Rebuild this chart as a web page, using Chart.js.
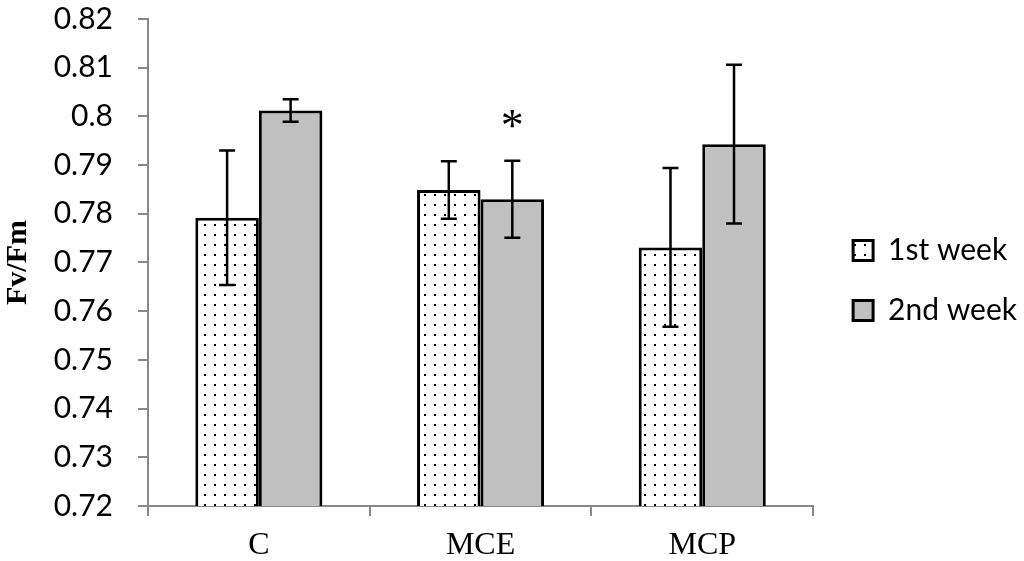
<!DOCTYPE html>
<html>
<head>
<meta charset="utf-8">
<script src="https://cdn.jsdelivr.net/npm/chart.js@4.4.1/dist/chart.umd.min.js"></script>
<style>
  html, body { margin: 0; padding: 0; background: #fff; }
  #wrap { width: 1024px; height: 561px; }
</style>
</head>
<body>
<div id="wrap"><canvas id="fv-chart"></canvas></div>
<script>
const categories = ['C', 'MCE', 'MCP'];
const week1 = [0.7792, 0.7849, 0.7731];
const week1Err = [0.0138, 0.0059, 0.0163];
const week2 = [0.8012, 0.7830, 0.7943];
const week2Err = [0.0023, 0.0079, 0.0163];
const week2Marks = ['', '*', ''];

// dotted fill like the excel "5%" pattern
let makeDots = () => {
  const c = document.createElement('canvas');
  c.width = 10;
  c.height = 10;
  const g = c.getContext('2d');
  g.fillStyle = '#fff';
  g.fillRect(0, 0, 10, 10);
  g.fillStyle = '#000';
  g.fillRect(4, 4, 2, 2);
  return g.createPattern(c, 'repeat');
}

const errorBars = {
  id: 'errorBars',
  afterDatasetsDraw(chart) {
    const ctx = chart.ctx;
    const y = chart.scales.y;
    chart.data.datasets.forEach((ds, di) => {
      const meta = chart.getDatasetMeta(di);
      meta.data.forEach((bar, i) => {
        const v = ds.data[i];
        const e = ds.errors[i];
        const top = y.getPixelForValue(v + e);
        const bot = y.getPixelForValue(v - e);
        ctx.save();
        ctx.strokeStyle = '#000';
        ctx.lineWidth = 2.5;
        ctx.beginPath();
        ctx.moveTo(bar.x, top);
        ctx.lineTo(bar.x, bot);
        ctx.moveTo(bar.x - 8, top);
        ctx.lineTo(bar.x + 8, top);
        ctx.moveTo(bar.x - 8, bot);
        ctx.lineTo(bar.x + 8, bot);
        ctx.stroke();
        if (ds.marks && ds.marks[i]) {
          ctx.fillStyle = '#000';
          ctx.font = '46px "Liberation Serif"';
          ctx.textAlign = 'center';
          ctx.textBaseline = 'middle';
          ctx.fillText(ds.marks[i], bar.x, top - 32);
        }
        ctx.restore();
      });
    });
  }
};

const axisGray = '#888888';

const ctx = document.getElementById('fv-chart').getContext('2d');
const fvChart = new Chart(ctx, {
  type: 'bar',
  plugins: [errorBars],
  data: {
    labels: categories,
    datasets: [
      {
        label: '1st week',
        data: week1,
        errors: week1Err,
        yAxisID: 'y',
        backgroundColor: makeDots(),
        borderColor: '#000',
        borderWidth: 3
      },
      {
        label: '2nd week',
        data: week2,
        errors: week2Err,
        marks: week2Marks,
        yAxisID: 'y',
        backgroundColor: '#c0c0c0',
        borderColor: '#000',
        borderWidth: 3
      }
    ]
  },
  options: {
    responsive: true,
    maintainAspectRatio: false,
    animation: false,
    datasets: {
      bar: {
        categoryPercentage: 0.573,
        barPercentage: 1
      }
    },
    layout: {
      padding: { left: 0, top: 0, bottom: 0, right: -3 }
    },
    scales: {
      x: {
        grid: {
          display: true,
          drawOnChartArea: false,
          offset: true,
          color: axisGray,
          lineWidth: 2,
          tickLength: 10
        },
        border: { color: axisGray, width: 2 },
        ticks: {
          color: '#000',
          padding: 14,
          font: { family: '"Liberation Serif"', size: 32, lineHeight: 1 }
        },
        afterFit: (s) => {
          s.height = 55;
        }
      },
      y: {
        min: 0.72,
        max: 0.82,
        grid: {
          display: true,
          drawOnChartArea: false,
          color: axisGray,
          lineWidth: 2,
          tickLength: 10
        },
        border: { color: axisGray, width: 2 },
        ticks: {
          stepSize: 0.01,
          color: '#000',
          padding: 25,
          font: { family: 'Lato', size: 30 },
          callback: (v) => Number(v.toFixed(2)).toString()
        },
        title: {
          display: true,
          text: 'Fv/Fm',
          color: '#000',
          padding: { top: 0, bottom: 8 },
          font: { family: '"Liberation Serif"', size: 30, weight: 'bold' }
        },
        afterFit: (s) => {
          s.width = 148;
          s.paddingTop = 19;
          s.paddingBottom = 0;
        }
      },
      // empty spacer between plot and legend
      gap: {
        type: 'linear',
        position: 'right',
        grid: { display: false },
        border: { display: false },
        ticks: { display: false },
        afterFit: (s) => {
          s.width = 10;
          s.paddingTop = 0;
          s.paddingBottom = 0;
        }
      }
    },
    plugins: {
      legend: {
        position: 'right',
        maxWidth: 260,
        labels: {
          color: '#000',
          boxWidth: 20,
          boxHeight: 20,
          padding: 30,
          font: { family: 'Lato', size: 30 }
        }
      },
      tooltip: { enabled: false }
    }
  }
});
</script>
</body>
</html>
